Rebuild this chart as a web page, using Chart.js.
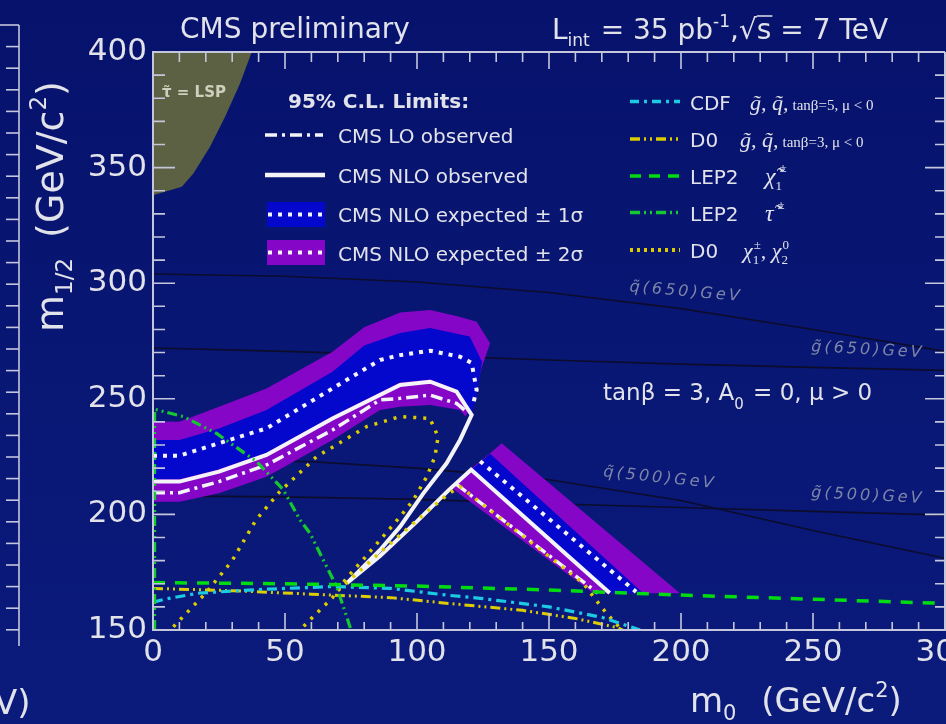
<!DOCTYPE html>
<html>
<head>
<meta charset="utf-8">
<script src="https://cdn.jsdelivr.net/npm/chart.js@4.4.0/dist/chart.umd.min.js"></script>
<style>
  html, body { margin: 0; padding: 0; width: 946px; height: 724px; overflow: hidden; background: #08166f; }
  canvas { display: block; }
</style>
</head>
<body>
<canvas id="msugra" width="1000" height="724"></canvas>
<script>
// axes
const xTicks = [0, 50, 100, 150, 200, 250, 300];
const yTicks = [150, 200, 250, 300, 350, 400];

// [m0, m1/2] points
const stauLsp = [[0,400],[37.4,400],[33,386.5],[27.3,372],[21.6,359],[15.3,347.5],[10.9,341.7],[0,338]];

const sq650 = [[0,304],[50,303],[100,300.5],[150,296],[200,289],[250,280],[300,270.5]];
const gl650 = [[0,272],[50,270.5],[100,268.8],[150,266.8],[200,265],[250,263.6],[300,262.3]];
const sq500 = [[0,224.3],[60,222.8],[100,220],[150,215],[200,206],[250,193],[300,181]];
const gl500 = [[0,208],[50,207.6],[100,206.5],[150,204.6],[200,203],[250,201.3],[300,199.7]];

// expected +-2 sigma / +-1 sigma bands (closed outlines)
const band2Left = [[0,240.3],[10,240.1],[25,246.6],[43,254.5],[68,270.4],[80,281],[93.6,287.3],[105,288.4],[116,285.5],[122.6,283.3],[127.7,274],[124.6,263.9],[121,248],[118.4,242.3],[116.3,245.2],[105,247.3],[93.6,246.6],[86,245.2],[68,232.2],[43,216.3],[25,209.1],[10,205.5],[0,205.5]];
const band1Left = [[0,232.2],[10,232.2],[25,237.2],[43,245.2],[68,261.7],[80,273],[93.6,278.5],[105,280.6],[120,276.9],[124.6,266],[122.6,251],[120.7,243.8],[115,254],[105,258.4],[93.6,257],[68,242.5],[43,226.7],[25,219.5],[10,215.2],[0,215.2]];
const band2Right = [[113,211.5],[118,217.5],[127.7,226.5],[132.1,230.8],[199.6,165.9],[166.8,165.9]];
const band1Right = [[120.7,219.4],[127.7,226.2],[185.7,165.9],[173.1,165.9]];

const expLeft = [[0,225.4],[10,225.4],[25,230.8],[43,237.2],[68,254.5],[86,266.8],[93.6,268.9],[105,270.8],[116.3,268.2],[120.7,265.5],[122.6,253.8],[121.3,248]];
const expRight = [[123.9,223],[183,166.5]];
const loLeft = [[0,209.4],[10,209.4],[25,214.2],[43,221.4],[68,236.5],[86,249.5],[93.6,250.2],[105,251.6],[115,248],[118.8,244.4]];
const loRight = [[115,213],[168.5,166]];
const nloObs = [[0,214.2],[10,214.2],[25,218.5],[43,225.7],[68,241.5],[93.6,256],[105,257.4],[115,253.1],[120.7,243],[116.3,232.2],[111.2,222.1],[102.4,209.1],[93.6,194.7],[86,184.6],[73.4,170.2],[86,182],[100,197],[112,210.5],[120.5,219.3],[173,166]];

// previous limits
const d0ChiLoop = [[7.7,151.4],[20,166],[30,180],[39,197.6],[48,209.8],[62,225],[81,238],[93.6,242.3],[104.9,241.5],[108,233.6],[106.8,225],[103.7,216.3],[98.6,206.2],[93.6,199],[86,188.9],[80,181],[73,172],[68,164],[60.7,155.8],[55.7,150]];
const d0ChiDiag = [[70,167],[86,183.5],[100,197.5],[112,209],[116.3,212],[163,170.2],[166.8,164.4],[171.8,157.2],[177,150.7]];
const d0Squark = [[0,168],[30,167],[60,165.5],[90,164],[112,161.5],[140,158.5],[160,155],[176,151],[178,150]];
const cdf = [[0,162],[5,163.5],[17.8,166],[40,167.5],[68,168.8],[90,168],[112,165],[124,163.7],[150,160],[170,155.5],[184.5,150]];
const lepStau = [[0.6,150],[0.6,245.5],[11.5,242.3],[24.1,235],[39.3,222.8],[49.4,210.6],[55.7,197.6],[59.5,191.8],[64.5,180.3],[69.6,168.7],[74.6,151.4],[75,150]];
const lepChargino = [[0,170.5],[50,170],[100,169],[150,167.3],[200,165.1],[250,163.3],[300,161.5]];

const TXT = '#e2e2ea';
const WHITE = '#f4f4f8';
const PURPLE = '#8606c8';
const BLUE = '#0408cc';
const OLIVE = '#5b6142';
const CYAN = '#1ccbe2';
const YELLOW = '#dccc00';
const GREEN = '#00dc10';
const GREEN2 = '#16c830';
const FRAME = '#c4c6dc';

const pts = a => a.map(([x, y]) => ({x, y}));

function line(data, color, width, dash, order) {
  return {data: pts(data), showLine: true, pointRadius: 0, fill: false, tension: 0,
    borderColor: color, borderWidth: width, borderDash: dash || [], borderCapStyle: 'butt', order};
}
function area(data, color, order) {
  return {data: pts(data), showLine: true, pointRadius: 0, tension: 0, fill: 'shape',
    backgroundColor: color, borderColor: 'rgba(0,0,0,0)', borderWidth: 0, order};
}

const F = (s, st) => (st ? st + ' ' : '') + s + 'px "DejaVu Sans"';
const SF = (s, st) => (st ? st + ' ' : '') + s + 'px "Liberation Serif"';

// draw a run of text pieces: [text, font, dy, gapAfter, overline]
function rich(c, x, y, parts) {
  let cx = x;
  for (const p of parts) {
    c.font = p[1];
    const w = c.measureText(p[0]).width;
    c.fillText(p[0], cx, y + (p[2] || 0));
    if (p[4]) {
      c.save(); c.strokeStyle = c.fillStyle; c.lineWidth = 1.5;
      c.beginPath(); c.moveTo(cx, y - 23); c.lineTo(cx + w + 1, y - 23); c.stroke(); c.restore();
    }
    cx += w + (p[3] || 0);
  }
  return cx;
}

function swatch(c, x1, x2, y, color, width, dash) {
  c.save(); c.strokeStyle = color; c.lineWidth = width; c.setLineDash(dash); c.lineCap = 'butt';
  c.beginPath(); c.moveTo(x1, y); c.lineTo(x2, y); c.stroke(); c.restore();
}

function massLabel(c, txt, x, y, ang) {
  c.save(); c.translate(x, y); c.rotate(ang * Math.PI / 180);
  c.font = 'italic 16px "DejaVu Sans"'; c.letterSpacing = '3px';
  c.fillStyle = '#7d86a8'; c.textAlign = 'center'; c.textBaseline = 'middle';
  c.fillText(txt, 0, 0); c.restore();
}

const decor = {
  id: 'decor',
  beforeDraw(chart) {
    const c = chart.ctx;
    const g = c.createLinearGradient(0, 0, 0, chart.height);
    g.addColorStop(0, '#06126c');
    g.addColorStop(1, '#0b1b7c');
    c.save(); c.fillStyle = g; c.fillRect(0, 0, chart.width, chart.height); c.restore();
  },
  afterDraw(chart) {
    const c = chart.ctx, xs = chart.scales.x, ys = chart.scales.y;
    const X = v => xs.getPixelForValue(v), Y = v => ys.getPixelForValue(v);
    const L = X(0), R = X(300), T = Y(400), B = Y(150);
    c.save();

    // frame and inner ticks
    c.strokeStyle = FRAME; c.lineWidth = 2;
    c.beginPath(); c.moveTo(R, T); c.lineTo(L, T); c.lineTo(L, B); c.lineTo(R, B); c.lineTo(R, T); c.stroke();
    c.lineWidth = 1.6;
    for (let v = 150; v <= 400; v += 10) {
      const big = v % 50 === 0, y = Y(v);
      c.beginPath();
      c.moveTo(L, y); c.lineTo(L + (big ? 22 : 12), y);
      c.moveTo(R, y); c.lineTo(R - (big ? 20 : 10), y);
      c.stroke();
    }
    for (let v = 0; v <= 300; v += 10) {
      const big = v % 50 === 0, x = X(v);
      c.beginPath();
      c.moveTo(x, B); c.lineTo(x, B - (big ? 17 : 8));
      c.moveTo(x, T); c.lineTo(x, T + (big ? 17 : 10));
      c.stroke();
    }

    // neighbouring panel edge at far left
    c.beginPath(); c.moveTo(19, 25); c.lineTo(19, 646); c.stroke();
    for (let y = 25; y <= 647; y += 21.6) {
      c.beginPath(); c.moveTo(19, y); c.lineTo(y < 30 || y > 640 ? 0 : 6, y); c.stroke();
    }

    c.fillStyle = TXT; c.textBaseline = 'alphabetic'; c.textAlign = 'left';

    // headers
    rich(c, 180, 38, [['CMS preliminary', F(28)]]);
    rich(c, 552, 39, [['L', F(28)], ['int', F(17), 7, 2], [' = 35 pb', F(28)], ['-1', F(17), -12], [',', F(28)], ['\u221a', F(28)], ['s', F(28), 0, 0, true], [' = 7 TeV', F(28)]]);

    // axis titles
    rich(c, 690, 712, [['m', F(34)], ['0', F(21), 8, 14], [' (GeV/c', F(34)], ['2', F(21), -15], [')', F(34)]]);
    c.save(); c.translate(63, 332); c.rotate(-Math.PI / 2);
    rich(c, 0, 0, [['m', F(38)], ['1/2', F(23), 9, 8], [' (GeV/c', F(38)], ['2', F(23), -17], [')', F(38)]]);
    c.restore();
    rich(c, -6, 714, [['V)', F(34)]]);

    // text inside plot
    c.fillStyle = '#cfcfbe';
    rich(c, 162, 97, [['\u03c4\u0303 = LSP', F(15, 'bold')]]);
    c.fillStyle = TXT;
    rich(c, 603, 400, [['tan\u03b2 = 3, A', F(23)], ['0', F(15), 9, 2], [' = 0, \u03bc > 0', F(23)]]);

    massLabel(c, 'q\u0303(650)GeV', X(201.9), Y(296.2), 5);
    massLabel(c, 'g\u0303(650)GeV', X(270.8), Y(271.1), 3);
    massLabel(c, 'q\u0303(500)GeV', X(192), Y(215.7), 6);
    massLabel(c, 'g\u0303(500)GeV', X(270.8), Y(208), 3);

    // CMS legend
    rich(c, 288, 108, [['95% C.L. Limits:', F(20, 'bold')]]);
    swatch(c, 265, 323, 135, WHITE, 3.5, [12, 5, 3, 5]);
    swatch(c, 265, 325, 175, WHITE, 4.5, []);
    c.fillStyle = BLUE; c.fillRect(267, 202, 58, 25);
    c.fillStyle = PURPLE; c.fillRect(267, 240, 58, 25);
    swatch(c, 268, 325, 214.5, WHITE, 4, [4, 6]);
    swatch(c, 268, 325, 252.5, WHITE, 4, [4, 6]);
    c.fillStyle = TXT;
    rich(c, 338, 143, [['CMS LO observed', F(20)]]);
    rich(c, 338, 183, [['CMS NLO observed', F(20)]]);
    rich(c, 338, 222, [['CMS NLO expected \u00b1 1\u03c3', F(20)]]);
    rich(c, 338, 261, [['CMS NLO expected \u00b1 2\u03c3', F(20)]]);

    // previous-results legend
    swatch(c, 630, 680, 101.5, CYAN, 3.5, [9, 5, 3, 5]);
    swatch(c, 630, 680, 139, YELLOW, 3.5, [10, 4, 2, 4, 2, 4]);
    swatch(c, 630, 680, 176, GREEN, 3.5, [11, 8]);
    swatch(c, 630, 680, 212.5, GREEN2, 3.5, [10, 4, 2, 4, 2, 4]);
    swatch(c, 630, 680, 250, YELLOW, 4, [3, 4]);
    c.fillStyle = TXT;
    rich(c, 690, 110, [['CDF', F(20)]]);
    rich(c, 750, 110, [['g\u0303, q\u0303,', SF(22, 'italic'), 0, 4], ['tan\u03b2=5, \u03bc < 0', SF(15)]]);
    rich(c, 690, 147, [['D0', F(20)]]);
    rich(c, 740, 147, [['g\u0303, q\u0303,', SF(22, 'italic'), 0, 4], ['tan\u03b2=3, \u03bc < 0', SF(15)]]);
    rich(c, 690, 184, [['LEP2', F(20)]]);
    let e = rich(c, 765, 184, [['\u03c7\u0303', SF(24, 'italic')]]);
    rich(c, e, 190, [['1', SF(13)]]); rich(c, e + 4, 172, [['\u00b1', SF(13)]]);
    rich(c, 690, 221, [['LEP2', F(20)]]);
    e = rich(c, 765, 221, [['\u03c4\u0303', SF(24, 'italic')]]);
    rich(c, e + 4, 209, [['\u00b1', SF(13)]]);
    rich(c, 690, 258, [['D0', F(20)]]);
    e = rich(c, 743, 258, [['\u03c7', SF(22, 'italic')]]);
    rich(c, e, 264, [['1', SF(13)]]); e = rich(c, e + 1, 249, [['\u00b1', SF(13)]]);
    e = rich(c, e, 258, [[', ', SF(22)], ['\u03c7', SF(22, 'italic')]]);
    rich(c, e, 264, [['2', SF(13)]]); rich(c, e + 1, 249, [['0', SF(13)]]);

    c.restore();
  }
};

new Chart(document.getElementById('msugra'), {
  type: 'scatter',
  data: {
    datasets: [
      area(stauLsp, OLIVE, 40),
      line(sq650, '#0c0c2c', 1.6, [], 30),
      line(gl650, '#0c0c2c', 1.6, [], 30),
      line(sq500, '#0c0c2c', 1.6, [], 30),
      line(gl500, '#0c0c2c', 1.6, [], 30),
      area(band2Left, PURPLE, 22),
      area(band2Right, PURPLE, 22),
      area(band1Left, BLUE, 21),
      area(band1Right, BLUE, 21),
      line(expLeft, WHITE, 4, [4, 6], 12),
      line(expRight, WHITE, 4, [4, 6], 12),
      line(loLeft, WHITE, 3.5, [12, 5, 3, 5], 11),
      line(loRight, WHITE, 3.5, [12, 5, 3, 5], 11),
      line(nloObs, WHITE, 4, [], 10),
      line(d0ChiLoop, YELLOW, 3.5, [3, 7], 8),
      line(d0ChiDiag, YELLOW, 3.5, [3, 7], 8),
      line(d0Squark, YELLOW, 3, [10, 4, 2, 4, 2, 4], 7),
      line(cdf, CYAN, 3.2, [10, 5, 3, 5], 6),
      line(lepStau, GREEN2, 3.2, [10, 4, 2, 4, 2, 4], 5),
      line(lepChargino, GREEN, 3.5, [12, 10], 4)
    ]
  },
  options: {
    responsive: false,
    animation: false,
    events: [],
    layout: {padding: {left: 0, top: 52, right: 55, bottom: 0}},
    plugins: {legend: {display: false}, tooltip: {enabled: false}},
    scales: {
      x: {
        type: 'linear', min: 0, max: 300,
        afterBuildTicks: s => { s.ticks = xTicks.map(v => ({value: v})); },
        afterFit: s => { s.height = 94; },
        grid: {display: false, drawTicks: false},
        border: {display: false},
        ticks: {color: TXT, font: {family: 'DejaVu Sans', size: 31}, padding: 4, maxRotation: 0, autoSkip: false}
      },
      y: {
        type: 'linear', min: 150, max: 400,
        afterBuildTicks: s => { s.ticks = yTicks.map(v => ({value: v})); },
        afterFit: s => { s.width = 153; },
        grid: {display: false, drawTicks: false},
        border: {display: false},
        ticks: {color: TXT, font: {family: 'DejaVu Sans', size: 31}, padding: 6, autoSkip: false}
      }
    }
  },
  plugins: [decor]
});
</script>
</body>
</html>
